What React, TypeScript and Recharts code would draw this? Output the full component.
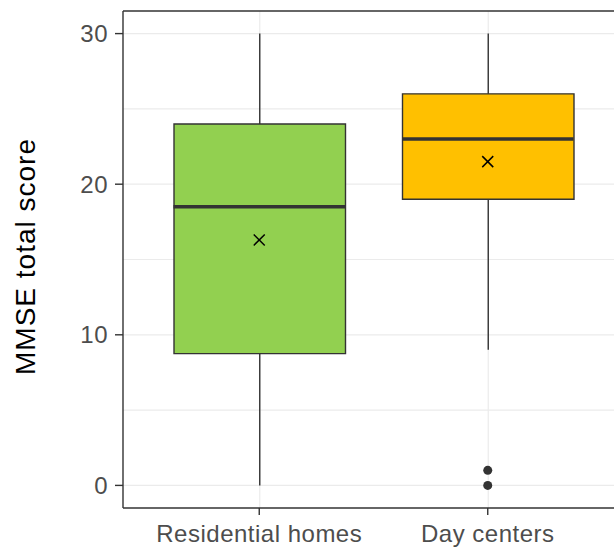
import {
  ComposedChart,
  Bar,
  Cell,
  Scatter,
  XAxis,
  YAxis,
  CartesianGrid,
  ReferenceLine,
} from 'recharts';

const categorias = ['Residential homes', 'Day centers'];
const minimos = [0, 9];
const cuartil1 = [8.75, 19];
const medianas = [18.5, 23];
const cuartil3 = [24, 26];
const maximos = [30, 30];
const medias = [16.3, 21.5];
const atipico1: (number | null)[] = [null, 0];
const atipico2: (number | null)[] = [null, 1];
const colores = ['#92D050', '#FFC000'];

const yTicks = [0, 10, 20, 30];
const gridValues = [0, 5, 10, 15, 20, 25, 30];
const yDomain: [number, number] = [-1.5, 31.5];

const BOX_W = 171.5;
const OSCURO = '#333333';
const GRIS = '#EBEBEB';
const FUENTE = '"Liberation Sans", Arial, sans-serif';

const datos = categorias.map((name, i) => ({
  name,
  bigote: [minimos[i], maximos[i]],
  caja: [cuartil1[i], cuartil3[i]],
  mediana: medianas[i],
  media: medias[i],
  out1: atipico1[i],
  out2: atipico2[i],
}));

const Bigote = (props: any) => {
  const { x, y, width, height } = props;
  const cx = x + width / 2;
  return <line x1={cx} x2={cx} y1={y} y2={y + height} stroke={OSCURO} strokeWidth={1.4} />;
};

// linea vertical de la rejilla, detras de cada caja
const GridVertical = (props: any) => {
  const { x, y, width, height } = props;
  if (x == null || width == null) return null;
  const cx = x + width / 2;
  return <line x1={cx} x2={cx} y1={y} y2={y + height} stroke={GRIS} strokeWidth={1.2} />;
};

const LineaMediana = (props: any) => {
  const { cx, cy } = props;
  if (cx == null || cy == null || isNaN(cy)) return null;
  return (
    <line x1={cx - BOX_W / 2} x2={cx + BOX_W / 2} y1={cy} y2={cy} stroke={OSCURO} strokeWidth={3.6} />
  );
};

const Cruz = (props: any) => {
  const { cx, cy } = props;
  if (cx == null || cy == null || isNaN(cy)) return null;
  const s = 5.5;
  return (
    <g stroke="#000" strokeWidth={1.5}>
      <line x1={cx - s} x2={cx + s} y1={cy - s} y2={cy + s} />
      <line x1={cx - s} x2={cx + s} y1={cy + s} y2={cy - s} />
    </g>
  );
};

const Punto = (props: any) => {
  const { cx, cy, payload, clave } = props;
  if (cx == null || cy == null || isNaN(cy)) return null;
  if (payload && clave && payload[clave] == null) return null;
  return <circle cx={cx} cy={cy} r={4.5} fill={OSCURO} />;
};

const TituloY = (props: any) => {
  const vb = props.viewBox;
  const cy = vb.y + vb.height / 2 - 3;
  const x = 35;
  return (
    <text
      x={x}
      y={cy}
      transform={`rotate(-90, ${x}, ${cy})`}
      textAnchor="middle"
      fill="#000"
      fontSize={28}
      fontFamily={FUENTE}
      letterSpacing={1}
    >
      MMSE total score
    </text>
  );
};

const tickStyle = { fill: '#4D4D4D', fontSize: 24, fontFamily: FUENTE, letterSpacing: 0.5 };

export default function App() {
  return (
    <div
      style={{
        position: 'fixed',
        top: 0,
        left: 0,
        width: 614,
        height: 547,
        overflow: 'hidden',
        background: '#fff',
      }}
    >
      <ComposedChart
        width={614}
        height={547}
        data={datos}
        margin={{ top: 11, right: -10, bottom: 0, left: 0 }}
        barGap={-BOX_W}
      >
        <CartesianGrid
          stroke={GRIS}
          strokeWidth={1.2}
          vertical={false}
          horizontalValues={gridValues}
          syncWithTicks
        />
        <XAxis
          dataKey="name"
          type="category"
          padding={{ left: 22, right: 22 }}
          height={39}
          tick={tickStyle}
          tickSize={7}
          tickMargin={10}
          axisLine={{ stroke: OSCURO, strokeWidth: 1.4 }}
          tickLine={{ stroke: OSCURO, strokeWidth: 1.4 }}
          interval={0}
        />
        <YAxis
          type="number"
          domain={yDomain}
          ticks={yTicks}
          interval={0}
          width={123}
          tick={tickStyle}
          tickSize={8}
          tickMargin={7}
          axisLine={{ stroke: OSCURO, strokeWidth: 1.4 }}
          tickLine={{ stroke: OSCURO, strokeWidth: 1.4 }}
          allowDataOverflow
          label={<TituloY />}
        />
        <ReferenceLine y={yDomain[1]} stroke={OSCURO} strokeWidth={1.4} />
        <Bar
          dataKey="bigote"
          barSize={BOX_W}
          shape={<Bigote />}
          background={<GridVertical />}
          isAnimationActive={false}
        />
        <Bar dataKey="caja" barSize={BOX_W} stroke={OSCURO} strokeWidth={1.4} isAnimationActive={false}>
          {datos.map((d, i) => (
            <Cell key={d.name} fill={colores[i]} />
          ))}
        </Bar>
        <Scatter dataKey="mediana" shape={<LineaMediana />} isAnimationActive={false} />
        <Scatter dataKey="media" shape={<Cruz />} isAnimationActive={false} />
        <Scatter dataKey="out1" shape={<Punto clave="out1" />} isAnimationActive={false} />
        <Scatter dataKey="out2" shape={<Punto clave="out2" />} isAnimationActive={false} />
      </ComposedChart>
    </div>
  );
}
